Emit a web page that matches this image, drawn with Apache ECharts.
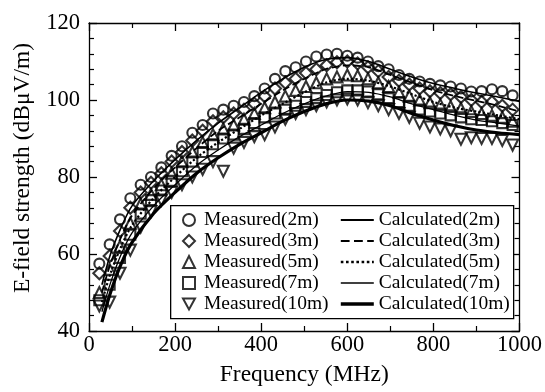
<!DOCTYPE html>
<html><head><meta charset="utf-8">
<script src="https://cdn.jsdelivr.net/npm/echarts@6/dist/echarts.min.js"></script>
<style>html,body{margin:0;padding:0;background:#fff}#c{width:545px;height:392px}</style>
</head><body><div id="c"></div>
<script>
// Measured frequencies (MHz)
const freqMeasured = [24,48,72,96,120,144,168,192,216,240,264,288,312,336,360,384,408,432,456,480,504,528,552,576,600,624,648,672,696,720,744,768,792,816,840,864,888,912,936,960,984];
const meas2m  = [57.5,62.5,69,74.5,78,80,82.5,85.5,88,91.5,93.5,96.5,97.5,98.5,99.5,101,103,105.5,107.5,108.5,110,111.3,111.8,112,111.5,111,110,108.8,108,106.5,105.5,104.8,104.2,103.8,103.5,103,102.2,102.3,102.8,102.3,101.2];
const meas3m  = [55,59.5,66,72,76,78.5,81,84,86.5,89.5,92,94.5,95.5,96.5,97.5,99,101,103,104.5,105.5,107,108,109,109.8,110,109.5,108.5,107.5,106,105,104,103,102.3,101.8,101.5,100.8,100,99.5,99.5,98.5,97.5];
const meas5m  = [50,56,62,68,73,75.5,78,81,84,86.5,89,91,92.5,93.5,95,96.5,98,99.5,101,102.5,103.5,104.5,105.5,106,106.5,106.3,105.5,104.5,103.5,102,101,100,99.3,98.8,98.3,97.8,97,96.5,96,95.5,94.5];
const meas7m  = [48,52,59,65,70.5,74,76.5,79,81.5,84,86.5,88.5,90,91,92.5,94,95.5,96.5,97.5,98.5,99.5,100.5,101.3,102,102.5,102.5,102.2,101.5,100.5,99.5,98.5,97.5,97,96.5,96,95.5,95,94.8,94.5,94,93.5];
const meas10m = [46.5,47.5,55,61,67,71,74,76,78,80,82,84,81.5,87.5,89,90.5,91,93,95,96.5,97.5,98.5,99.5,100,100.3,100,99.3,98.5,97.5,96.5,95.5,94,93,92.5,92,89.8,90.2,90,90,89.5,88.3];

// Calculated curves
const freqCalc = [30,50,75,100,150,200,250,300,350,400,450,500,550,600,650,700,750,800,850,900,950,1000];
const calc2m  = [52,60,67,72.5,79,84.5,89.5,94,98,102,105.5,108.5,110.5,111,110,108,106,104.3,103,101.8,100.8,99.6];
const calc3m  = [50,57.5,64.5,70,77,82.5,87.5,92,95.5,99,102.5,105.5,108,109,108.5,106.5,104.5,102.5,101,99.8,98.5,97];
const calc5m  = [47.5,55,62,67.5,74.5,80,85,89,92.5,96,99,102,104.5,105.5,105,103.5,101.5,99.5,98,97,96,95];
const calc7m  = [45,52.5,60,65.5,72.5,78,83,87,90.5,93.5,96.5,99,101,102.2,102,100.8,99,97.5,96,94.8,94,93.2];
const calc10m = [42.3,50,57.5,63,70.5,76,81,85,88.5,91.5,94.5,97,99,100,99.7,98.5,96.5,94.8,93.3,92.2,91.5,91];

const measNames = ['Measured(2m)','Measured(3m)','Measured(5m)','Measured(7m)','Measured(10m)'];
const calcNames = ['Calculated(2m)','Calculated(3m)','Calculated(5m)','Calculated(7m)','Calculated(10m)'];
const measData = [meas2m, meas3m, meas5m, meas7m, meas10m];
const calcData = [calc2m, calc3m, calc5m, calc7m, calc10m];
const symbols = ['circle','diamond','triangle','rect','path://M0,0 L10,0 L5,9 Z'];
const symbolSizes = [10, 12, 11, 10, 11];
const lineTypes = ['solid','dashed','dotted','solid','solid'];
const lineWidths = [1.6, 1.8, 2.2, 1.3, 3.2];

const FONT = 'Liberation Serif';
const pair = (xs, ys) => xs.map((x, i) => [x, ys[i]]);

const axisCommon = {
  axisLine: {show: true, onZero: false, lineStyle: {color: '#000', width: 1.3}},
  axisTick: {show: true, inside: true, length: 8, lineStyle: {color: '#000', width: 1.3}},
  splitLine: {show: false}
};

const series = [];
calcNames.forEach((n, i) => {
  series.push({
    name: n, type: 'line', data: pair(freqCalc, calcData[i]), smooth: 0.3,
    symbol: 'none', showSymbol: false,
    lineStyle: {color: '#000', width: lineWidths[i], type: lineTypes[i]},
    itemStyle: {color: '#000'}, z: 2
  });
});
measNames.forEach((n, i) => {
  series.push({
    name: n, type: 'scatter', data: pair(freqMeasured, measData[i]),
    symbol: symbols[i], symbolSize: symbolSizes[i],
    itemStyle: {color: 'rgba(255,255,255,0)', borderColor: '#000', borderWidth: 2.1}, z: 3
  });
});

const chart = echarts.init(document.getElementById('c'), null, {renderer: 'canvas'});
chart.setOption({
  animation: false,
  backgroundColor: '#fff',
  grid: {left: 89, right: 24, top: 23, bottom: 59},
  xAxis: [
    Object.assign({}, axisCommon, {
      type: 'value', min: 0, max: 1000, interval: 200, position: 'bottom',
      minorTick: {show: true, splitNumber: 2, length: 5, lineStyle: {color: '#000', width: 1.2}},
      axisLabel: {color: '#000', fontFamily: FONT, fontSize: 22.5, margin: 3, formatter: v => String(v)},
      name: 'Frequency (MHz)', nameLocation: 'middle', nameGap: 32,
      nameTextStyle: {color: '#000', fontFamily: FONT, fontSize: 23.5}
    }),
    Object.assign({}, axisCommon, {
      type: 'value', min: 0, max: 1000, interval: 200, position: 'top',
      minorTick: {show: true, splitNumber: 2, length: 5, lineStyle: {color: '#000', width: 1.2}},
      axisLabel: {show: false}
    })
  ],
  yAxis: [
    Object.assign({}, axisCommon, {
      type: 'value', min: 40, max: 120, interval: 20, position: 'left',
      minorTick: {show: true, splitNumber: 5, length: 5, lineStyle: {color: '#000', width: 1.2}},
      axisLabel: {color: '#000', fontFamily: FONT, fontSize: 22.5, margin: 9},
      name: 'E-field strength (dBμV/m)', nameLocation: 'middle', nameGap: 54,
      nameTextStyle: {color: '#000', fontFamily: FONT, fontSize: 23.5, padding: [0, 0, 0, 18]}
    }),
    Object.assign({}, axisCommon, {
      type: 'value', min: 40, max: 120, interval: 20, position: 'right',
      minorTick: {show: true, splitNumber: 5, length: 5, lineStyle: {color: '#000', width: 1.2}},
      axisLabel: {show: false}
    })
  ],
  graphic: [{
    type: 'rect', left: 170, top: 205, z: 10,
    shape: {width: 343, height: 113},
    style: {fill: '#fff', stroke: '#000', lineWidth: 1.3}
  }],
  legend: [
    {
      data: measNames, orient: 'vertical', left: 177, top: 205, z: 12,
      itemWidth: 12, itemHeight: 12, itemGap: 1, selectedMode: false,
      textStyle: {color: '#000', fontFamily: FONT, fontSize: 19.5, lineHeight: 19.5, padding: [0, 0, 0, 4]}
    },
    {
      data: calcNames.map((n, i) => ({name: n, lineStyle: {color: '#000', width: lineWidths[i] + 0.4, type: lineTypes[i]}})),
      orient: 'vertical', left: 334, top: 205, z: 12,
      itemWidth: 33, itemHeight: 12, itemGap: 1, selectedMode: false,
      itemStyle: {opacity: 0},
      textStyle: {color: '#000', fontFamily: FONT, fontSize: 19.5, lineHeight: 19.5}
    }
  ],
  series: series
});
</script></body></html>
